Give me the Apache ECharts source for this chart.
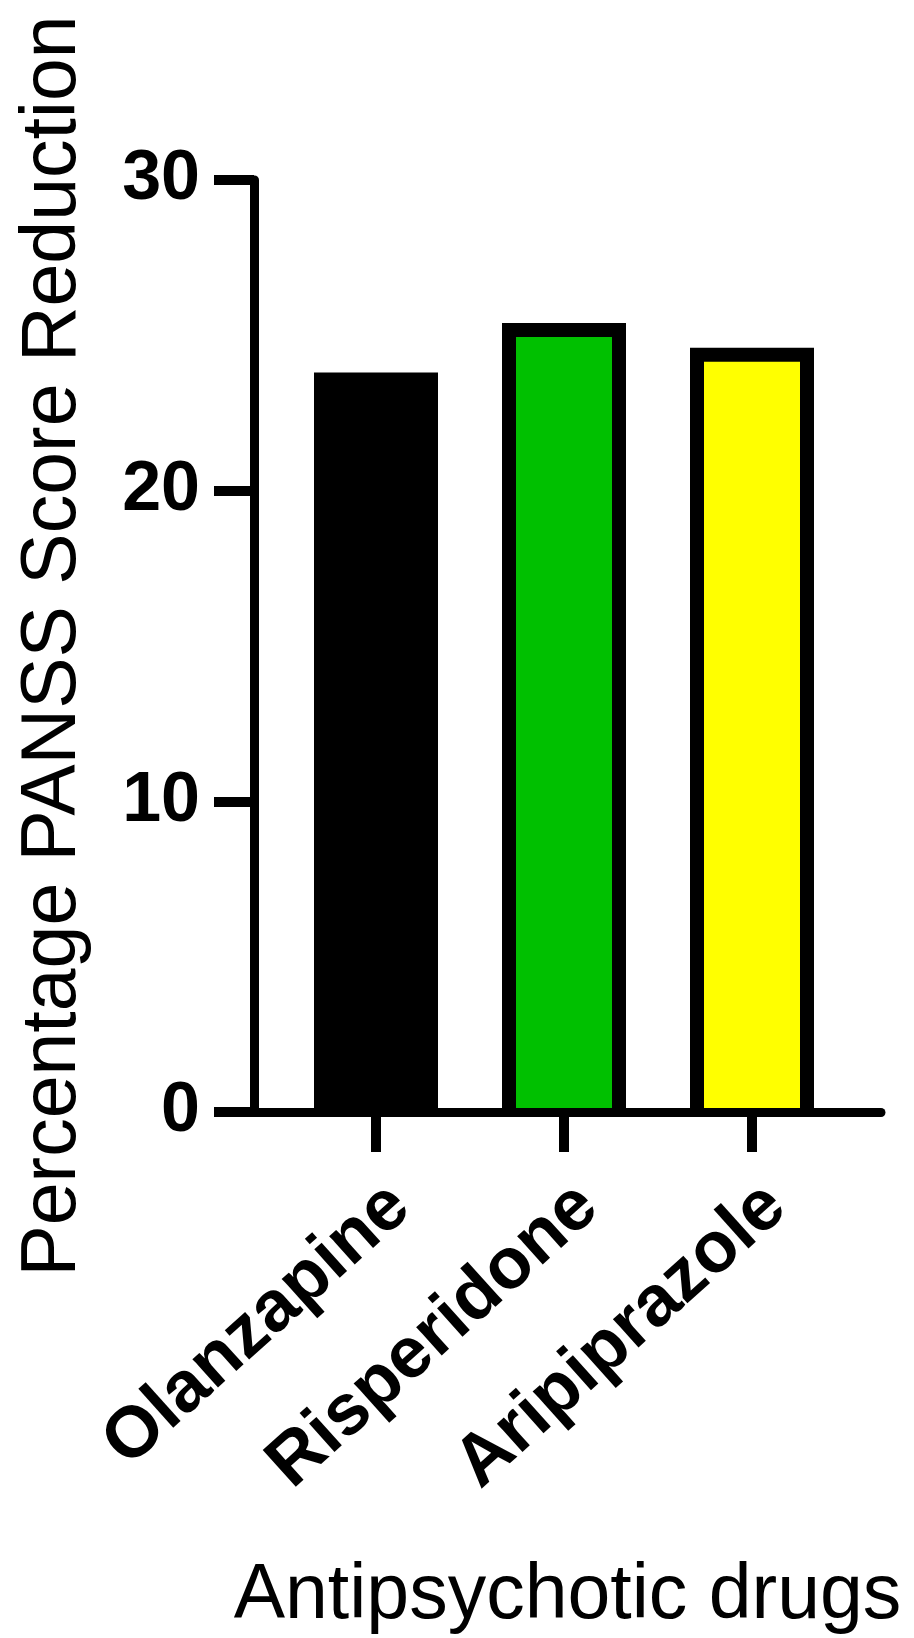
<!DOCTYPE html>
<html>
<head>
<meta charset="utf-8">
<script src="https://cdn.jsdelivr.net/npm/echarts@6/dist/echarts.min.js"></script>
<style>
  html, body { margin: 0; padding: 0; background: #fff; }
  #chart { width: 914px; height: 1638px; }
</style>
</head>
<body>
<div id="chart"></div>
<script>
// data
const drugs = ['Olanzapine', 'Risperidone', 'Aripiprazole'];
const reduction = [23.8, 25.4, 24.6];
const barColors = ['#000000', '#00c000', '#ffff00'];
const yTicks = [0, 10, 20, 30];

const font = 'Liberation Sans, Arial, sans-serif';
const BAR_W = 124;   // outer bar width, px
const EDGE = 14;     // black outline, px (top and sides only, like the original)

const chart = echarts.init(document.getElementById('chart'));

// bar = black outer box + coloured inner box, both from the axis scales
function renderBar(params, api) {
  const idx = api.value(0);
  const top = api.coord([idx, api.value(1)]);
  const base = api.coord([idx, 0]);
  const h = base[1] - top[1];
  return {
    type: 'group',
    children: [
      { type: 'rect', shape: { x: top[0] - BAR_W / 2, y: top[1], width: BAR_W, height: h },
        style: { fill: '#000' } },
      { type: 'rect', shape: { x: top[0] - BAR_W / 2 + EDGE, y: top[1] + EDGE, width: BAR_W - 2 * EDGE, height: h - EDGE },
        style: { fill: barColors[idx] } }
    ]
  };
}

const option = {
  backgroundColor: '#fff',
  animation: false,
  grid: [
    // outer frame: axis lines, y ticks, titles
    { left: 254, right: 33, top: 180, bottom: 526, outerBoundsMode: 'none' },
    // inner band for the bars and category ticks
    { left: 282, width: 564, top: 180, bottom: 526, outerBoundsMode: 'none' }
  ],
  xAxis: [
    {
      gridIndex: 0, type: 'category', data: drugs, z: 5,
      axisLine: { lineStyle: { color: '#000', width: 9 } },
      axisTick: { show: false }, axisLabel: { show: false },
      name: 'Antipsychotic drugs', nameLocation: 'middle', nameGap: 446,
      nameTextStyle: { fontFamily: font, fontSize: 77, color: '#000' }
    },
    {
      gridIndex: 1, type: 'category', data: drugs,
      axisLine: { show: false },
      axisTick: { show: true, alignWithLabel: true, length: 40, lineStyle: { color: '#000', width: 10 } },
      axisLabel: {
        rotate: 42, margin: 58, verticalAlign: 'top',
        fontFamily: font, fontWeight: 'bold', fontSize: 72, color: '#000'
      }
    }
  ],
  yAxis: [
    {
      gridIndex: 0, type: 'value', min: 0, max: 30, interval: 10, z: 5,
      axisLine: { show: true, lineStyle: { color: '#000', width: 9 } },
      axisTick: { show: true, length: 40, lineStyle: { color: '#000', width: 10 } },
      splitLine: { show: false },
      axisLabel: {
        margin: 54, fontFamily: font, fontWeight: 'bold', fontSize: 70, color: '#000',
        formatter: v => yTicks.includes(v) ? String(v) : ''
      },
      name: 'Percentage PANSS Score Reduction', nameLocation: 'middle', nameGap: 162, nameRotate: 90,
      nameTextStyle: { fontFamily: font, fontSize: 77, color: '#000' }
    },
    {
      gridIndex: 1, type: 'value', min: 0, max: 30, interval: 10, show: false
    }
  ],
  series: [{
    type: 'custom', coordinateSystem: 'cartesian2d', xAxisIndex: 1, yAxisIndex: 1,
    renderItem: renderBar,
    encode: { x: 0, y: 1 },
    data: reduction.map((v, i) => [i, v])
  }]
};

chart.setOption(option);
</script>
</body>
</html>
